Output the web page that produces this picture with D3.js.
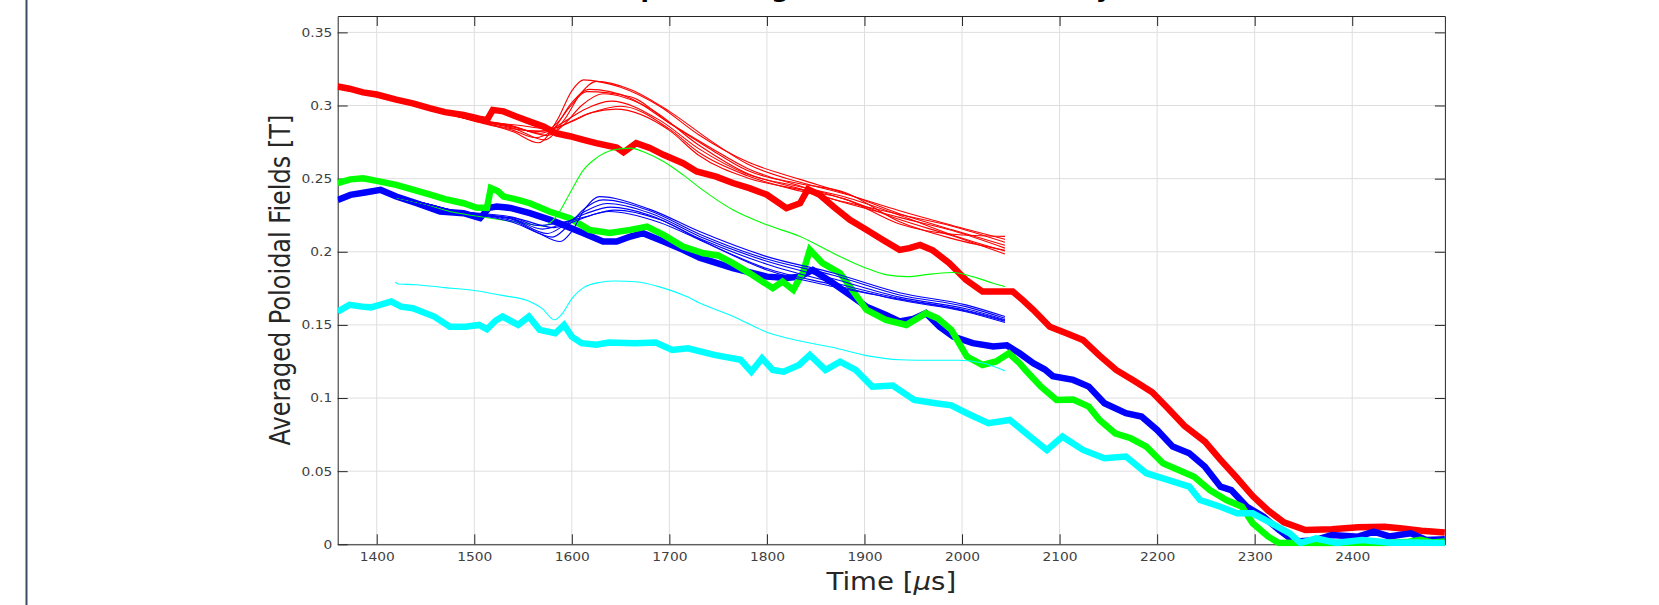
<!DOCTYPE html>
<html>
<head>
<meta charset="utf-8">
<script src="https://cdn.jsdelivr.net/npm/d3@7"></script>
<style>
  html, body { margin: 0; padding: 0; background: #ffffff; }
  svg { display: block; }
</style>
</head>
<body>
<div id="chart"></div>
<script>
// ---------------- DATA ----------------
const titleText = "Sample Averaged Poloidal Field Decay Curves";
const xLabelMain = "Time [";
const xLabelMu = "\u03bc";
const xLabelEnd = "s]";
const yLabelText = "Averaged Poloidal Fields [T]";

const xDomain = [1360, 2495];
const yDomain = [0, 0.3612];
const xTicks = [1400, 1500, 1600, 1700, 1800, 1900, 2000, 2100, 2200, 2300, 2400];
const xTickLabels = ["1400", "1500", "1600", "1700", "1800", "1900", "2000", "2100", "2200", "2300", "2400"];
const yTicks = [0, 0.05, 0.1, 0.15, 0.2, 0.25, 0.3, 0.35];
const yTickLabels = ["0", "0.05", "0.1", "0.15", "0.2", "0.25", "0.3", "0.35"];

// Experimental (thick) series: [time µs, field T]
const redExp = [[1360,0.313],[1372,0.3115],[1386,0.309],[1400,0.3075],[1420,0.304],[1437,0.3015],[1455,0.298],[1470,0.2955],[1489,0.2935],[1505,0.291],[1513,0.290],[1519,0.297],[1530,0.296],[1543,0.2925],[1557,0.289],[1571,0.2856],[1584,0.281],[1598,0.279],[1612,0.2765],[1625,0.2743],[1646,0.2712],[1653,0.268],[1666,0.2743],[1680,0.271],[1694,0.2663],[1714,0.2606],[1728,0.2549],[1748,0.2514],[1765,0.247],[1782,0.2435],[1800,0.239],[1820,0.2298],[1834,0.2332],[1842,0.2428],[1854,0.239],[1868,0.2309],[1885,0.2218],[1902,0.215],[1919,0.2081],[1936,0.2013],[1946,0.2025],[1957,0.2047],[1970,0.201],[1987,0.1922],[2004,0.1808],[2021,0.1728],[2038,0.1728],[2052,0.1728],[2062,0.1671],[2073,0.1603],[2090,0.1488],[2107,0.1443],[2124,0.1397],[2141,0.1290],[2158,0.1192],[2178,0.1112],[2195,0.1040],[2211,0.0930],[2228,0.0810],[2249,0.0702],[2265,0.0577],[2281,0.0460],[2298,0.0330],[2314,0.0230],[2330,0.0150],[2352,0.0098],[2379,0.0103],[2406,0.0116],[2433,0.0120],[2449,0.0110],[2471,0.0093],[2495,0.0080]];

const greenExp = [[1360,0.247],[1373,0.2495],[1386,0.2503],[1400,0.2485],[1420,0.2458],[1437,0.2425],[1455,0.239],[1470,0.236],[1489,0.2332],[1502,0.2303],[1513,0.2300],[1517,0.2435],[1524,0.2415],[1530,0.2378],[1545,0.2355],[1557,0.2332],[1577,0.2275],[1598,0.223],[1618,0.215],[1639,0.2128],[1660,0.215],[1677,0.2172],[1694,0.2115],[1714,0.2036],[1735,0.199],[1750,0.1975],[1765,0.1922],[1782,0.1854],[1806,0.1751],[1816,0.1797],[1827,0.174],[1837,0.1860],[1844,0.2013],[1857,0.1922],[1875,0.1854],[1885,0.1762],[1902,0.1603],[1922,0.1534],[1943,0.150],[1963,0.158],[1975,0.1545],[1989,0.1466],[2005,0.1283],[2021,0.1226],[2035,0.1250],[2048,0.1306],[2059,0.1238],[2065,0.1192],[2081,0.1078],[2097,0.0987],[2114,0.0990],[2130,0.0941],[2141,0.0850],[2157,0.0759],[2173,0.0725],[2189,0.0668],[2206,0.0554],[2222,0.0508],[2238,0.0462],[2254,0.0371],[2271,0.0303],[2287,0.0257],[2298,0.0144],[2314,0.0052],[2325,0.0009],[2345,0.0010],[2370,0.0005],[2400,0.0012],[2430,0.0008],[2455,0.0015],[2470,0.0030],[2482,0.0012],[2495,0.0020]];

const blueExp = [[1360,0.2355],[1373,0.2389],[1388,0.2405],[1404,0.2423],[1420,0.2378],[1441,0.2332],[1465,0.2275],[1489,0.2264],[1506,0.2230],[1515,0.2300],[1523,0.2309],[1537,0.2300],[1557,0.2264],[1578,0.2218],[1591,0.2184],[1612,0.2127],[1632,0.2070],[1646,0.2070],[1660,0.2104],[1673,0.2127],[1694,0.2070],[1714,0.2013],[1731,0.1960],[1765,0.1888],[1800,0.1830],[1820,0.1820],[1834,0.1830],[1847,0.1876],[1868,0.1785],[1885,0.1705],[1902,0.1625],[1922,0.1568],[1936,0.1523],[1950,0.1540],[1963,0.1580],[1977,0.1488],[1991,0.1420],[2011,0.1375],[2032,0.1352],[2046,0.1360],[2059,0.1306],[2073,0.1238],[2085,0.1195],[2093,0.1150],[2114,0.1124],[2130,0.1078],[2146,0.0964],[2168,0.0896],[2184,0.0873],[2200,0.0782],[2216,0.0668],[2233,0.0622],[2249,0.0531],[2265,0.0394],[2276,0.0371],[2292,0.0257],[2309,0.0189],[2325,0.0098],[2341,0.0018],[2363,0.0030],[2379,0.0064],[2406,0.0052],[2422,0.0086],[2438,0.0054],[2460,0.0075],[2476,0.0030],[2495,0.0034]];

const cyanExp = [[1360,0.1591],[1372,0.1637],[1385,0.1625],[1394,0.1620],[1405,0.1640],[1415,0.1660],[1425,0.1625],[1437,0.1614],[1459,0.1557],[1475,0.1488],[1491,0.1488],[1505,0.1500],[1513,0.1470],[1522,0.1530],[1529,0.1557],[1545,0.1500],[1556,0.1557],[1567,0.1466],[1583,0.1443],[1592,0.1500],[1600,0.1420],[1610,0.1375],[1625,0.1365],[1638,0.1380],[1665,0.1375],[1686,0.1380],[1703,0.1329],[1719,0.1340],[1746,0.1295],[1773,0.1261],[1784,0.1180],[1795,0.1272],[1806,0.1192],[1817,0.1180],[1833,0.1226],[1844,0.1295],[1860,0.1192],[1875,0.1249],[1891,0.1192],[1908,0.1078],[1929,0.1085],[1951,0.0987],[1973,0.0964],[1989,0.0950],[2005,0.0896],[2027,0.0828],[2049,0.0850],[2070,0.0736],[2087,0.0645],[2103,0.0736],[2124,0.0645],[2146,0.0588],[2168,0.0600],[2189,0.0486],[2211,0.0440],[2233,0.0394],[2244,0.0303],[2265,0.0257],[2282,0.0212],[2298,0.0212],[2314,0.0155],[2336,0.0075],[2347,0.0010],[2363,0.0040],[2384,0.0010],[2410,0.0030],[2440,0.0010],[2465,0.0012],[2495,0.0008]];

// Simulation (thin) series
const cyanSim = [[1419,0.1795],[1422,0.1780],[1440,0.1775],[1470,0.1755],[1500,0.1735],[1530,0.1700],[1555,0.1665],[1570,0.1610],[1582,0.1535],[1590,0.1575],[1600,0.1680],[1612,0.1755],[1628,0.1790],[1645,0.1800],[1665,0.1795],[1690,0.1760],[1719,0.1690],[1731,0.1650],[1765,0.1560],[1800,0.1450],[1834,0.1390],[1868,0.1345],[1902,0.1290],[1936,0.1262],[1970,0.1258],[1997,0.1258],[2021,0.1240],[2044,0.1187]];

const greenSim = [[1420,0.2370],[1450,0.2325],[1475,0.2275],[1502,0.2245],[1530,0.2215],[1555,0.2190],[1571,0.2177],[1584,0.2240],[1598,0.2400],[1612,0.2560],[1625,0.2640],[1643,0.2697],[1660,0.2709],[1677,0.2674],[1694,0.2617],[1714,0.2526],[1734,0.2423],[1765,0.2287],[1800,0.2184],[1834,0.2104],[1868,0.1990],[1902,0.1888],[1923,0.1842],[1943,0.1830],[1970,0.1849],[1991,0.1858],[2011,0.1830],[2032,0.1785],[2044,0.1762]];

const redSim1 = [[1420,0.3035],[1450,0.2985],[1480,0.2930],[1510,0.2880],[1540,0.2820],[1566,0.2745],[1585,0.2900],[1600,0.3100],[1612,0.3175],[1630,0.3160],[1650,0.3125],[1690,0.2995],[1730,0.2800],[1780,0.2615],[1834,0.2495],[1880,0.2400],[1936,0.2260],[1990,0.2150],[2044,0.2045]];
const redSim2 = [[1420,0.3035],[1450,0.2985],[1480,0.2930],[1510,0.2885],[1540,0.2845],[1572,0.2765],[1592,0.2900],[1610,0.3090],[1625,0.3165],[1660,0.3110],[1700,0.2960],[1740,0.2770],[1780,0.2600],[1834,0.2475],[1880,0.2395],[1936,0.2280],[1990,0.2180],[2044,0.2085]];
const redSim3 = [[1420,0.3035],[1450,0.2985],[1480,0.2930],[1510,0.2875],[1540,0.2830],[1562,0.2780],[1580,0.2830],[1600,0.3020],[1618,0.3110],[1660,0.3050],[1700,0.2880],[1740,0.2720],[1780,0.2570],[1834,0.2450],[1880,0.2360],[1936,0.2220],[1990,0.2110],[2044,0.1985]];
const redSim4 = [[1420,0.3035],[1450,0.2985],[1480,0.2930],[1510,0.2890],[1545,0.2845],[1575,0.2795],[1592,0.2870],[1610,0.3000],[1632,0.3080],[1680,0.2980],[1730,0.2730],[1780,0.2535],[1834,0.2430],[1880,0.2335],[1936,0.2235],[1990,0.2145],[2044,0.2025]];
const redSim5 = [[1420,0.3035],[1450,0.2985],[1480,0.2930],[1510,0.2895],[1540,0.2855],[1568,0.2810],[1590,0.2880],[1612,0.2970],[1640,0.3030],[1690,0.2900],[1730,0.2705],[1780,0.2530],[1834,0.2445],[1880,0.2375],[1936,0.2250],[1990,0.2115],[2044,0.2005]];
const redSim6 = [[1420,0.3035],[1450,0.2985],[1480,0.2930],[1510,0.2895],[1540,0.2860],[1560,0.2820],[1585,0.2850],[1615,0.2940],[1650,0.2995],[1700,0.2840],[1730,0.2680],[1780,0.2520],[1834,0.2415],[1880,0.2340],[1936,0.2255],[1990,0.2175],[2044,0.2065]];
const redSim7 = [[1420,0.3035],[1450,0.2985],[1480,0.2930],[1510,0.2890],[1545,0.2865],[1578,0.2840],[1600,0.2890],[1620,0.2950],[1645,0.2975],[1700,0.2830],[1730,0.2660],[1780,0.2505],[1834,0.2425],[1880,0.2360],[1936,0.2190],[1990,0.2120],[2044,0.2105]];
const redSim8 = [[1420,0.3035],[1450,0.2985],[1480,0.2930],[1510,0.2880],[1540,0.2840],[1570,0.2825],[1585,0.2880],[1598,0.2990],[1615,0.3095],[1660,0.3060],[1700,0.2880],[1740,0.2710],[1780,0.2555],[1834,0.2465],[1880,0.2405],[1936,0.2205],[1990,0.2090],[2044,0.2010]];

const blueSim1 = [[1420,0.2375],[1450,0.2330],[1480,0.2280],[1510,0.2245],[1540,0.2200],[1565,0.2130],[1588,0.2070],[1600,0.2140],[1614,0.2300],[1628,0.2377],[1680,0.2290],[1731,0.2138],[1800,0.1967],[1868,0.1855],[1936,0.1720],[2004,0.1637],[2044,0.1557]];
const blueSim2 = [[1420,0.2375],[1450,0.2330],[1480,0.2280],[1510,0.2250],[1540,0.2210],[1580,0.2100],[1595,0.2170],[1612,0.2290],[1632,0.2355],[1680,0.2280],[1731,0.2120],[1800,0.1950],[1868,0.1840],[1936,0.1705],[2004,0.1625],[2044,0.1545]];
const blueSim3 = [[1420,0.2375],[1450,0.2330],[1480,0.2280],[1510,0.2250],[1540,0.2220],[1575,0.2125],[1592,0.2180],[1612,0.2270],[1636,0.2330],[1680,0.2265],[1731,0.2105],[1800,0.1935],[1868,0.1815],[1936,0.1690],[2004,0.1610],[2044,0.1535]];
const blueSim4 = [[1420,0.2375],[1450,0.2330],[1480,0.2280],[1510,0.2255],[1540,0.2225],[1570,0.2155],[1590,0.2190],[1614,0.2260],[1640,0.2305],[1680,0.2250],[1731,0.2090],[1800,0.1915],[1868,0.1790],[1936,0.1680],[2004,0.1600],[2044,0.1530]];
const blueSim5 = [[1420,0.2375],[1450,0.2330],[1480,0.2280],[1510,0.2255],[1545,0.2225],[1582,0.2165],[1600,0.2200],[1620,0.2250],[1644,0.2285],[1690,0.2220],[1731,0.2085],[1800,0.1885],[1868,0.1775],[1936,0.1670],[2004,0.1590],[2044,0.1516]];
const blueSim6 = [[1420,0.2375],[1450,0.2330],[1480,0.2280],[1510,0.2260],[1540,0.2235],[1565,0.2180],[1590,0.2200],[1614,0.2240],[1638,0.2275],[1690,0.2200],[1731,0.2081],[1800,0.1876],[1868,0.1762],[1936,0.1675],[2004,0.1595],[2044,0.1525]];

const expSeries = [
  { data: redExp,   color: "#ff0000" },
  { data: blueExp,  color: "#0000ff" },
  { data: greenExp, color: "#00ff00" },
  { data: cyanExp,  color: "#00ffff" }
];
const simSeries = [
  { data: redSim1, color: "#ff0000" }, { data: redSim2, color: "#ff0000" },
  { data: redSim3, color: "#ff0000" }, { data: redSim4, color: "#ff0000" },
  { data: redSim5, color: "#ff0000" }, { data: redSim6, color: "#ff0000" },
  { data: redSim7, color: "#ff0000" }, { data: redSim8, color: "#ff0000" },
  { data: greenSim, color: "#00ff00" },
  { data: blueSim1, color: "#0000ff" }, { data: blueSim2, color: "#0000ff" },
  { data: blueSim3, color: "#0000ff" }, { data: blueSim4, color: "#0000ff" },
  { data: blueSim5, color: "#0000ff" }, { data: blueSim6, color: "#0000ff" },
  { data: cyanSim, color: "#00ffff" }
];

// ---------------- LAYOUT ----------------
const W = 1659, H = 605;
const pL = 337.7, pR = 1444.9, pT = 16, pB = 544.3;
const axisColor = "#262626";
const stretch = 1.15;

const svg = d3.select("#chart").append("svg")
  .attr("width", W).attr("height", H)
  .attr("viewBox", `0 0 ${W} ${H}`);

svg.append("rect").attr("width", W).attr("height", H).attr("fill", "#ffffff");

// left decorative frame line
svg.append("line")
  .attr("x1", 26.5).attr("x2", 26.5).attr("y1", 0).attr("y2", H)
  .attr("stroke", "#3f4b66").attr("stroke-width", 2);

const x = d3.scaleLinear().domain(xDomain).range([pL, pR]);
const y = d3.scaleLinear().domain(yDomain).range([pB, pT]);

// grid
const grid = svg.append("g");
grid.selectAll("line.gx").data(xTicks).join("line").attr("class", "gx")
  .attr("x1", d => x(d)).attr("x2", d => x(d))
  .attr("y1", pT).attr("y2", pB)
  .attr("stroke", "#dedede").attr("stroke-width", 1);
grid.selectAll("line.gy").data(yTicks).join("line").attr("class", "gy")
  .attr("x1", pL).attr("x2", pR)
  .attr("y1", d => y(d)).attr("y2", d => y(d))
  .attr("stroke", "#dedede").attr("stroke-width", 1);

// axes
const tickLen = 10;
const fmtX = d => xTickLabels[xTicks.indexOf(d)];
const fmtY = d => yTickLabels[yTicks.indexOf(d)];

const gBottom = svg.append("g").attr("transform", `translate(0,${pB})`)
  .call(d3.axisBottom(x).tickValues(xTicks).tickFormat(fmtX)
        .tickSizeInner(-tickLen).tickSizeOuter(0).tickPadding(8.5));
const gLeft = svg.append("g").attr("transform", `translate(${pL},0)`)
  .call(d3.axisLeft(y).tickValues(yTicks).tickFormat(fmtY)
        .tickSizeInner(-tickLen).tickSizeOuter(0).tickPadding(5.5));
const gTop = svg.append("g").attr("transform", `translate(0,${pT})`)
  .call(d3.axisTop(x).tickValues(xTicks).tickFormat(() => "")
        .tickSizeInner(-tickLen).tickSizeOuter(0));
const gRight = svg.append("g").attr("transform", `translate(${pR},0)`)
  .call(d3.axisRight(y).tickValues(yTicks).tickFormat(() => "")
        .tickSizeInner(-tickLen).tickSizeOuter(0));

[gBottom, gLeft, gTop, gRight].forEach(g => {
  g.select(".domain").attr("stroke", axisColor).attr("stroke-width", 1);
  g.selectAll(".tick line").attr("stroke", axisColor).attr("stroke-width", 1);
  g.selectAll(".tick text")
    .attr("fill", "#404040")
    .style("font-family", "'DejaVu Sans', sans-serif")
    .style("font-size", "12px");
});
gBottom.selectAll(".tick text").attr("transform", `scale(${stretch},1)`);
gLeft.selectAll(".tick text")
  .attr("x", -5.5 / stretch)
  .attr("transform", `scale(${stretch},1)`);

// data
const clipId = "plotclip";
svg.append("clipPath").attr("id", clipId)
  .append("rect").attr("x", pL).attr("y", pT - 2)
  .attr("width", pR - pL).attr("height", pB - pT + 4);

const plot = svg.append("g").attr("clip-path", `url(#${clipId})`);
const lineLinear = d3.line().x(d => x(d[0])).y(d => y(d[1]));
const lineSmooth = d3.line().x(d => x(d[0])).y(d => y(d[1])).curve(d3.curveMonotoneX);

plot.selectAll("path.exp").data(expSeries).join("path")
  .attr("class", "exp")
  .attr("d", d => lineLinear(d.data))
  .attr("fill", "none")
  .attr("stroke", d => d.color)
  .attr("stroke-width", 6.5)
  .attr("stroke-linejoin", "miter")
  .attr("stroke-miterlimit", 2)
  .attr("stroke-linecap", "butt");

plot.selectAll("path.sim").data(simSeries).join("path")
  .attr("class", "sim")
  .attr("d", d => lineSmooth(d.data))
  .attr("fill", "none")
  .attr("stroke", d => d.color)
  .attr("stroke-width", 1.1);

// title (mostly above the visible area, as in the reference)
svg.append("text")
  .attr("transform", `translate(580.5,-2.2) scale(${stretch},1)`)
  .attr("text-anchor", "start")
  .style("font-family", "'DejaVu Sans', sans-serif")
  .style("font-weight", "bold")
  .style("font-size", "21.4px")
  .attr("fill", "#000000")
  .text(titleText);

// x label
const xl = svg.append("text")
  .attr("transform", `translate(${(pL + pR) / 2},590) scale(${stretch},1)`)
  .attr("text-anchor", "middle")
  .style("font-family", "'DejaVu Sans', sans-serif")
  .style("font-size", "24px")
  .attr("fill", axisColor);
xl.append("tspan").text(xLabelMain);
xl.append("tspan").style("font-style", "italic").text(xLabelMu);
xl.append("tspan").text(xLabelEnd);

// y label
svg.append("text")
  .attr("transform", `translate(290,${(pT + pB) / 2}) scale(${stretch},1) rotate(-90)`)
  .attr("text-anchor", "middle")
  .style("font-family", "'DejaVu Sans', sans-serif")
  .style("font-size", "24px")
  .attr("fill", axisColor)
  .text(yLabelText);
</script>
</body>
</html>
